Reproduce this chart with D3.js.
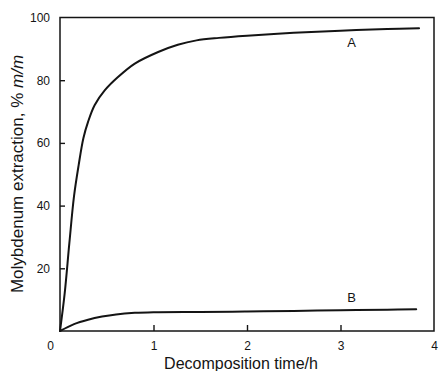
<!DOCTYPE html>
<html>
<head>
<meta charset="utf-8">
<script src="https://cdn.jsdelivr.net/npm/d3@7"></script>
<style>
  html, body { margin: 0; padding: 0; background: #fff; }
  svg { display: block; font-family: "Liberation Sans", Arial, Helvetica, sans-serif; }
</style>
</head>
<body>
<svg id="chart" width="439" height="371"></svg>
<script>
// Decomposition time (h) and molybdenum extraction (% m/m) for the two curves
const timeA = [0, 0.05, 0.1, 0.15, 0.2, 0.25, 0.3, 0.37, 0.48, 0.62, 0.8, 1.05, 1.26, 1.46, 1.7, 2.0, 2.5, 3.0, 3.5, 3.84];
const extractionA = [0, 12, 28, 43, 53, 61.5, 66.7, 72, 76.8, 81, 85.3, 89, 91.3, 92.7, 93.5, 94.2, 95.1, 95.8, 96.3, 96.6];

const timeB = [0, 0.15, 0.3, 0.45, 0.6, 0.8, 1.0, 1.5, 2.0, 2.5, 3.0, 3.5, 3.81];
const extractionB = [0, 2.2, 3.6, 4.6, 5.3, 5.8, 6.0, 6.1, 6.2, 6.4, 6.6, 6.8, 6.9];

const xTicks = [0, 1, 2, 3, 4];
const yTicks = [20, 40, 60, 80, 100];
const curveLabels = ["A", "B"];

const svg = d3.select("#chart");
const ink = "#141414";

const x = d3.scaleLinear().domain([0, 4]).range([60, 434]);
const y = d3.scaleLinear().domain([0, 100]).range([331, 17.5]);

// x axis: inward ticks, labels below
const xAxis = svg.append("g")
  .attr("transform", `translate(0,${y(0)})`)
  .call(d3.axisBottom(x)
    .tickValues(xTicks)
    .tickFormat(d3.format("d"))
    .tickSizeInner(-6)
    .tickSizeOuter(0)
    .tickPadding(10.5));
xAxis.select(".domain").remove();
xAxis.selectAll(".tick line")
  .attr("stroke", ink).attr("stroke-width", 1.4)
  .attr("opacity", d => (d === 0 || d === 4) ? 0 : 1);
xAxis.selectAll(".tick text")
  .attr("fill", ink).attr("font-size", 12).attr("font-family", null)
  .attr("x", d => d === 0 ? -10 : 0);

// y axis: inward ticks, labels to the left
const yAxis = svg.append("g")
  .attr("transform", `translate(${x(0)},0)`)
  .call(d3.axisLeft(y)
    .tickValues(yTicks)
    .tickSizeInner(-5)
    .tickSizeOuter(0)
    .tickPadding(10));
yAxis.select(".domain").remove();
yAxis.selectAll(".tick line")
  .attr("stroke", ink).attr("stroke-width", 1.4)
  .attr("opacity", d => d === 100 ? 0 : 1);
yAxis.selectAll(".tick text")
  .attr("fill", ink).attr("font-size", 12).attr("font-family", null);

// plot frame
svg.append("rect")
  .attr("x", x(0)).attr("y", y(100))
  .attr("width", x(4) - x(0)).attr("height", y(0) - y(100))
  .attr("fill", "none").attr("stroke", ink).attr("stroke-width", 1.5);

// curves
const line = d3.line()
  .x(d => x(d[0]))
  .y(d => y(d[1]))
  .curve(d3.curveCatmullRom.alpha(0.5));

const seriesA = d3.zip(timeA, extractionA);
const seriesB = d3.zip(timeB, extractionB);

[seriesA, seriesB].forEach(s => {
  svg.append("path")
    .datum(s)
    .attr("d", line)
    .attr("fill", "none")
    .attr("stroke", ink)
    .attr("stroke-width", 2)
    .attr("stroke-linejoin", "round")
    .attr("stroke-linecap", "round");
});

// curve labels
svg.append("text")
  .attr("x", 351.7).attr("y", 46.7)
  .attr("text-anchor", "middle").attr("font-size", 13).attr("fill", ink)
  .text(curveLabels[0]);
svg.append("text")
  .attr("x", 351.7).attr("y", 301.7)
  .attr("text-anchor", "middle").attr("font-size", 13).attr("fill", ink)
  .text(curveLabels[1]);

// axis titles
svg.append("text")
  .attr("x", 241).attr("y", 369)
  .attr("text-anchor", "middle").attr("font-size", 16).attr("fill", ink)
  .text("Decomposition time/h");

const yTitle = svg.append("text")
  .attr("transform", "translate(23,174) rotate(-90)")
  .attr("text-anchor", "middle").attr("font-size", 17).attr("fill", ink);
yTitle.append("tspan").text("Molybdenum extraction, % ");
yTitle.append("tspan").attr("font-style", "italic").text("m/m");
</script>
</body>
</html>
